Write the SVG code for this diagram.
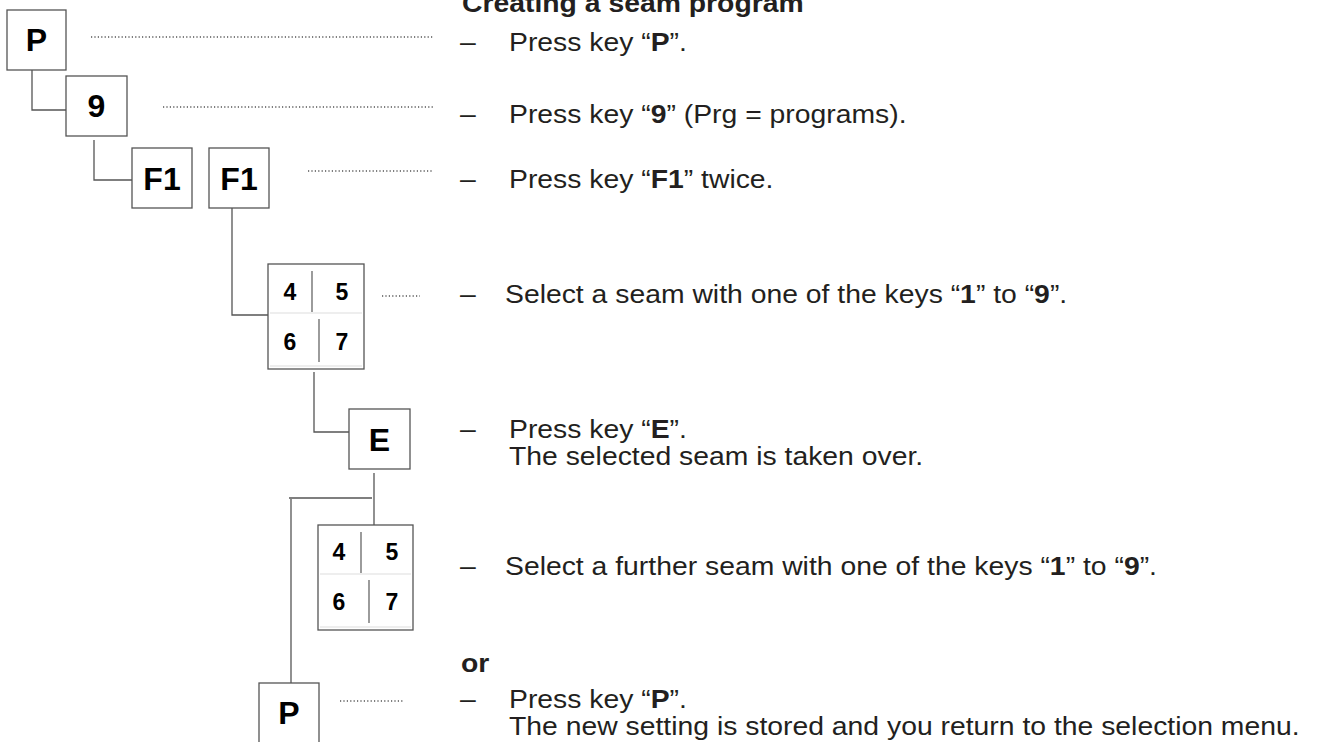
<svg xmlns="http://www.w3.org/2000/svg" width="1328" height="742" viewBox="0 0 1328 742">
<style>
.key{fill:#fff;stroke:#555;stroke-width:1.3}
.kl{font-family:"Liberation Sans",Arial,sans-serif;font-weight:bold;font-size:32px;fill:#000;text-anchor:middle}
.gl{font-family:"Liberation Sans",Arial,sans-serif;font-weight:bold;font-size:23px;fill:#000;text-anchor:middle}
.div{stroke:#666;stroke-width:1.3}
.faint{stroke:#ddd;stroke-width:1;fill:none}
.con{fill:none;stroke:#555;stroke-width:1.3}
.dot{fill:none;stroke:#555;stroke-width:1.3;stroke-dasharray:1.2 2.2}
.t{font-family:"Liberation Sans",Arial,sans-serif;font-size:26px;fill:#231f20}
.b{font-weight:bold}
</style>
<rect width="1328" height="742" fill="#fff"/>
<g id="connectors">
<path class="con" d="M32,70 V110 H66"/>
<path class="con" d="M94,140 V180 H132"/>
<path class="con" d="M232,208 V315 H268"/>
<path class="con" d="M314,372 V432 H349"/>
<path class="con" d="M374,473 V525"/>
<path class="con" d="M372,498 H289"/>
<path class="con" d="M291,499 V683"/>
</g>
<g id="leaders">
<line class="dot" x1="91" y1="37" x2="433" y2="37"/>
<line class="dot" x1="163" y1="107" x2="433" y2="107"/>
<line class="dot" x1="308" y1="171" x2="433" y2="171"/>
<line class="dot" x1="382" y1="296" x2="420" y2="296"/>
<line class="dot" x1="340" y1="701" x2="403" y2="701"/>
</g>
<g id="key-P1"><rect class="key" x="7" y="10" width="59" height="60"/><text class="kl" x="36.5" y="51">P</text></g>
<g id="key-9"><rect class="key" x="66" y="76" width="61" height="60"/><text class="kl" x="96.5" y="117">9</text></g>
<g id="key-F1a"><rect class="key" x="132" y="148" width="60" height="60"/><text class="kl" x="162" y="190">F1</text></g>
<g id="key-F1b"><rect class="key" x="209" y="148" width="60" height="60"/><text class="kl" x="239" y="190">F1</text></g>
<g id="keypad-1">
<rect class="key" x="268" y="264" width="96" height="105"/>
<line class="faint" x1="270" y1="313" x2="362" y2="313"/>
<line class="faint" x1="270" y1="366" x2="362" y2="366"/>
<line class="div" x1="312" y1="271" x2="312" y2="312"/>
<line class="div" x1="319" y1="319" x2="319" y2="362"/>
<text class="gl" x="290" y="300">4</text><text class="gl" x="342" y="300">5</text>
<text class="gl" x="290" y="350">6</text><text class="gl" x="342" y="350">7</text>
</g>
<g id="key-E"><rect class="key" x="349" y="409" width="61" height="60"/><text class="kl" x="379.5" y="451">E</text></g>
<g id="keypad-2">
<rect class="key" x="318" y="525" width="95" height="105"/>
<line class="faint" x1="320" y1="574" x2="411" y2="574"/>
<line class="faint" x1="320" y1="627" x2="411" y2="627"/>
<line class="div" x1="361" y1="532" x2="361" y2="573"/>
<line class="div" x1="369" y1="580" x2="369" y2="623"/>
<text class="gl" x="339" y="560">4</text><text class="gl" x="392" y="560">5</text>
<text class="gl" x="339" y="610">6</text><text class="gl" x="392" y="610">7</text>
</g>
<g id="key-P2"><rect class="key" x="259" y="683" width="60" height="62"/><text class="kl" x="289" y="724">P</text></g>
<g id="texts">
<text class="t b" transform="translate(462,12) scale(1.09,1)">Creating a seam program</text>
<text class="t" transform="translate(460,51) scale(1.09,1)">–</text>
<text class="t" transform="translate(509,51) scale(1.09,1)">Press key “<tspan class="b">P</tspan>”.</text>
<text class="t" transform="translate(460,123) scale(1.09,1)">–</text>
<text class="t" transform="translate(509,123) scale(1.09,1)">Press key “<tspan class="b">9</tspan>” (Prg = programs).</text>
<text class="t" transform="translate(460,188) scale(1.09,1)">–</text>
<text class="t" transform="translate(509,188) scale(1.09,1)">Press key “<tspan class="b">F1</tspan>” twice.</text>
<text class="t" transform="translate(460,303) scale(1.09,1)">–</text>
<text class="t" transform="translate(505,303) scale(1.09,1)">Select a seam with one of the keys “<tspan class="b">1</tspan>” to “<tspan class="b">9</tspan>”.</text>
<text class="t" transform="translate(460,438) scale(1.09,1)">–</text>
<text class="t" transform="translate(509,438) scale(1.09,1)">Press key “<tspan class="b">E</tspan>”.</text>
<text class="t" transform="translate(509,465) scale(1.09,1)">The selected seam is taken over.</text>
<text class="t" transform="translate(460,575) scale(1.09,1)">–</text>
<text class="t" transform="translate(505,575) scale(1.09,1)">Select a further seam with one of the keys “<tspan class="b">1</tspan>” to “<tspan class="b">9</tspan>”.</text>
<text class="t b" transform="translate(461,672) scale(1.09,1)">or</text>
<text class="t" transform="translate(460,708) scale(1.09,1)">–</text>
<text class="t" transform="translate(509,708) scale(1.09,1)">Press key “<tspan class="b">P</tspan>”.</text>
<text class="t" transform="translate(509,735) scale(1.09,1)">The new setting is stored and you return to the selection menu.</text>
</g>
</svg>
